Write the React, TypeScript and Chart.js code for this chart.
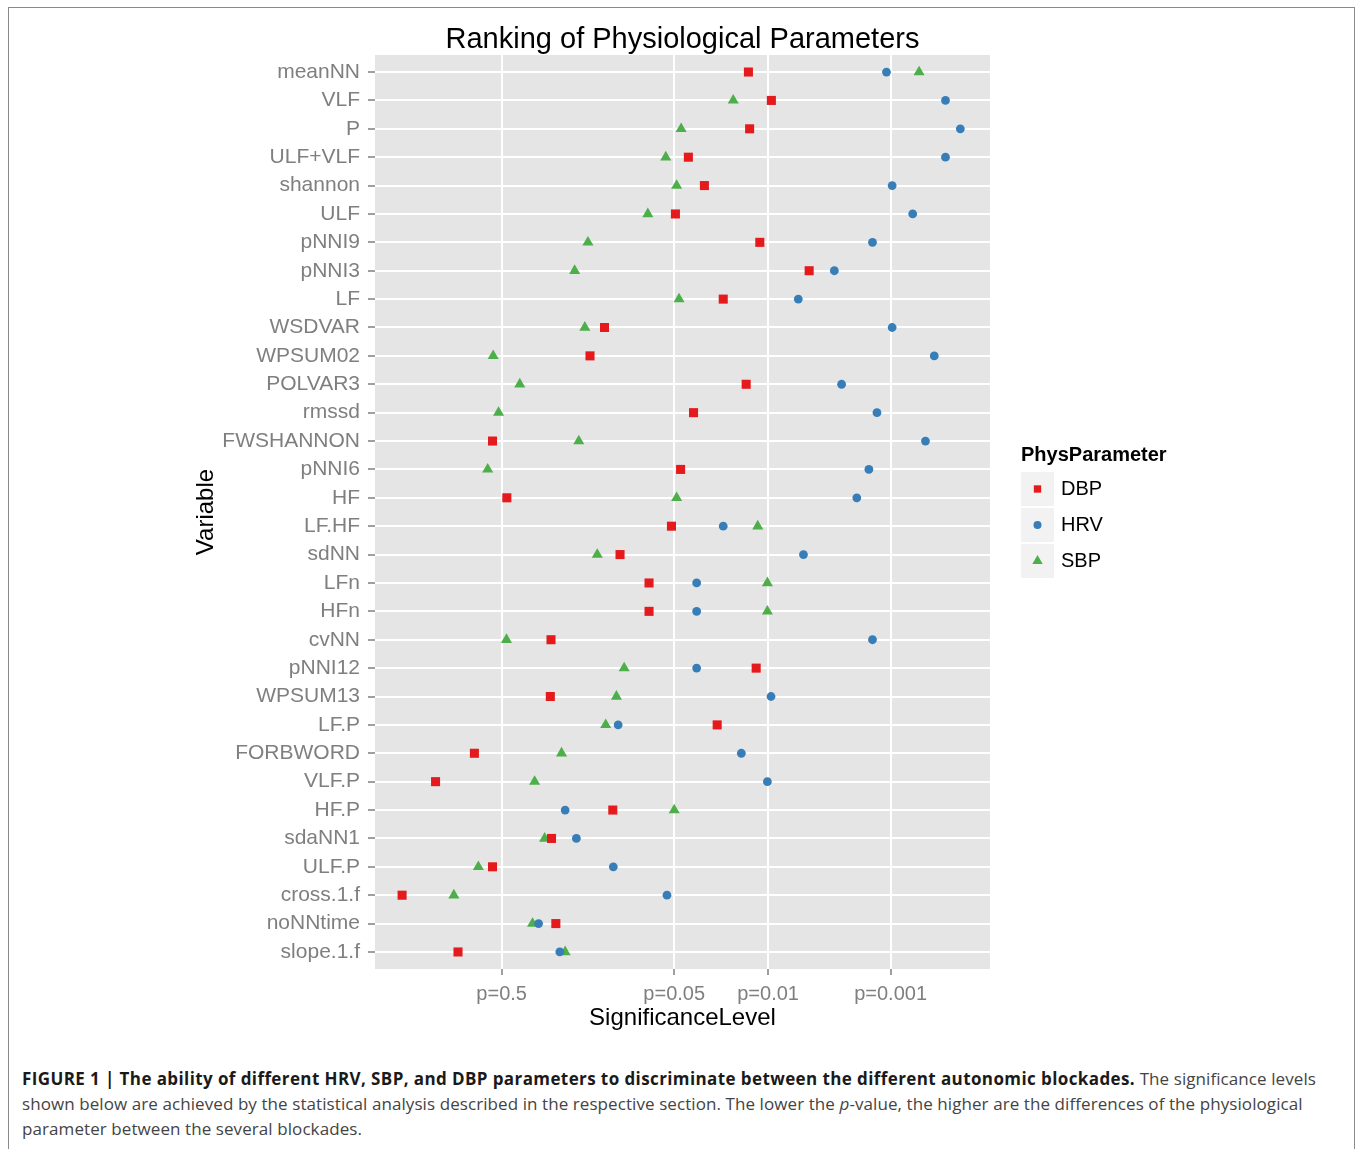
import React, { useEffect, useRef } from "react";
import { Chart, registerables } from "chart.js";

Chart.register(...registerables);

// ---------- data ----------
const categories = [
  "meanNN", "VLF", "P", "ULF+VLF", "shannon", "ULF", "pNNI9", "pNNI3",
  "LF", "WSDVAR", "WPSUM02", "POLVAR3", "rmssd", "FWSHANNON", "pNNI6", "HF",
  "LF.HF", "sdNN", "LFn", "HFn", "cvNN", "pNNI12", "WPSUM13", "LF.P",
  "FORBWORD", "VLF.P", "HF.P", "sdaNN1", "ULF.P", "cross.1.f", "noNNtime", "slope.1.f",
];

// significance scores on the plot's transformed axis (p=0.5 -> 0.30, p=0.05 -> 1.30)
const dbpValues = [
  1.730, 1.863, 1.737, 1.382, 1.475, 1.307, 1.796, 2.082,
  1.584, 0.896, 0.812, 1.717, 1.412, 0.247, 1.337, 0.330,
  1.284, 0.986, 1.154, 1.154, 0.586, 1.775, 0.582, 1.549,
  0.142, -0.083, 0.944, 0.589, 0.247, -0.277, 0.614, 0.047,
];
const hrvValues = [
  2.530, 2.872, 2.958, 2.872, 2.563, 2.682, 2.449, 2.228,
  2.019, 2.563, 2.807, 2.270, 2.475, 2.756, 2.428, 2.358,
  1.584, 2.049, 1.430, 1.430, 2.449, 1.430, 1.861, 0.975,
  1.689, 1.840, 0.668, 0.733, 0.947, 1.258, 0.514, 0.637,
];
const sbpValues = [
  2.719, 1.642, 1.340, 1.251, 1.314, 1.147, 0.800, 0.723,
  1.328, 0.782, 0.251, 0.405, 0.282, 0.747, 0.219, 1.314,
  1.784, 0.854, 1.840, 1.840, 0.328, 1.010, 0.965, 0.903,
  0.647, 0.491, 1.300, 0.549, 0.165, 0.023, 0.479, 0.668,
];

const xTickValues = [0.30, 1.30, 1.844, 2.554];
const xTickLabels = ["p=0.5", "p=0.05", "p=0.01", "p=0.001"];
const xMin = -0.434;
const xMax = 3.13;

const seriesNames = ["DBP", "HRV", "SBP"];
const seriesColors = ["#E41A1C", "#377EB8", "#4DAF4A"];
const seriesShapes = ["rect", "circle", "triangle"];
const seriesRadius = [6.4, 4.4, 6.4];
const seriesValues = [dbpValues, hrvValues, sbpValues];

const titleText = "Ranking of Physiological Parameters";
const xTitle = "SignificanceLevel";
const yTitle = "Variable";
const legendTitle = "PhysParameter";

// ---------- styling ----------
const FONT = '"Liberation Sans", Arial, Helvetica, sans-serif';
const CAPTION_FONT = '"Open Sans", "Liberation Sans", Arial, sans-serif';
const CANVAS_W = 1357;
const CANVAS_H = 1045;
const AXIS_GREY = "#7F7F7F";

function drawShape(ctx: CanvasRenderingContext2D, shape: string, x: number, y: number, r: number) {
  ctx.beginPath();
  if (shape === "rect") {
    const s = Math.SQRT1_2 * r;
    ctx.rect(x - s, y - s, 2 * s, 2 * s);
  } else if (shape === "circle") {
    ctx.arc(x, y, r, 0, Math.PI * 2);
  } else {
    let rad = 0;
    ctx.moveTo(x + Math.sin(rad) * r, y - Math.cos(rad) * r);
    rad += (2 * Math.PI) / 3;
    ctx.lineTo(x + Math.sin(rad) * r, y - Math.cos(rad) * r);
    rad += (2 * Math.PI) / 3;
    ctx.lineTo(x + Math.sin(rad) * r, y - Math.cos(rad) * r);
    ctx.closePath();
  }
  ctx.fill();
}

const decorPlugin = {
  id: "ggDecor",
  beforeDraw(chart: any) {
    const { ctx, chartArea: a } = chart;
    ctx.save();
    ctx.fillStyle = "#E5E5E5";
    ctx.fillRect(a.left, a.top, a.right - a.left, a.bottom - a.top);
    ctx.restore();
  },
  afterDraw(chart: any) {
    const { ctx, chartArea: a } = chart;
    ctx.save();
    // plot title
    ctx.fillStyle = "#000";
    ctx.font = `29px ${FONT}`;
    ctx.textAlign = "center";
    ctx.textBaseline = "alphabetic";
    ctx.fillText(titleText, (a.left + a.right) / 2, 48);

    // legend
    const lx = 1021;
    ctx.textAlign = "left";
    ctx.font = `bold 20px ${FONT}`;
    ctx.fillText(legendTitle, lx, 461);
    ctx.font = `20px ${FONT}`;
    seriesNames.forEach((name, i) => {
      const top = 472 + i * 36;
      ctx.fillStyle = "#F2F2F2";
      ctx.fillRect(lx, top, 33, 34);
      ctx.fillStyle = seriesColors[i];
      const r = seriesShapes[i] === "circle" ? 4 : seriesShapes[i] === "rect" ? 5.2 : 6;
      drawShape(ctx, seriesShapes[i], lx + 16.5, top + 17, r);
      ctx.fillStyle = "#000";
      ctx.textBaseline = "middle";
      ctx.fillText(name, lx + 40, top + 17);
      ctx.textBaseline = "alphabetic";
    });
    ctx.restore();
  },
};

export default function App() {
  const canvasRef = useRef<HTMLCanvasElement>(null);

  useEffect(() => {
    const datasets = seriesNames.map((name, s) => ({
      label: name,
      data: categories.map((_, i) => ({ x: seriesValues[s][i], y: i })),
      pointStyle: seriesShapes[s],
      pointRadius: seriesRadius[s],
      pointHoverRadius: seriesRadius[s],
      backgroundColor: seriesColors[s],
      borderColor: seriesColors[s],
      pointBorderWidth: 0,
      borderWidth: 0,
      showLine: false,
    }));

    const chart = new Chart(canvasRef.current as HTMLCanvasElement, {
      type: "scatter",
      data: { datasets },
      plugins: [decorPlugin],
      options: {
        animation: false,
        responsive: false,
        maintainAspectRatio: false,
        events: [],
        layout: { padding: { left: 0, right: CANVAS_W - 990, top: 55, bottom: 0 } },
        plugins: {
          legend: { display: false },
          title: { display: false },
          tooltip: { enabled: false },
        },
        scales: {
          x: {
            type: "linear",
            position: "bottom",
            min: xMin,
            max: xMax,
            afterBuildTicks: (scale: any) => {
              scale.ticks = xTickValues.map((v) => ({ value: v }));
            },
            afterFit: (scale: any) => {
              scale.height = CANVAS_H - 969;
            },
            ticks: {
              autoSkip: false,
              maxRotation: 0,
              minRotation: 0,
              padding: 7,
              color: AXIS_GREY,
              font: { family: FONT, size: 20 },
              callback: (v: any) => {
                const idx = xTickValues.indexOf(Number(v));
                return idx >= 0 ? xTickLabels[idx] : "";
              },
            },
            grid: {
              color: "#FFFFFF",
              lineWidth: 2,
              tickLength: 6,
              tickColor: AXIS_GREY,
              tickWidth: 1.5,
            },
            border: { display: false },
            title: {
              display: true,
              text: xTitle,
              color: "#000",
              font: { family: FONT, size: 24 },
              padding: { top: 0, bottom: 12 },
            },
          },
          y: {
            type: "linear",
            reverse: true,
            min: -0.6,
            max: categories.length - 1 + 0.6,
            afterBuildTicks: (scale: any) => {
              scale.ticks = categories.map((_, i) => ({ value: i }));
            },
            afterFit: (scale: any) => {
              scale.width = 375;
            },
            ticks: {
              autoSkip: false,
              padding: 8,
              color: AXIS_GREY,
              font: { family: FONT, size: 21 },
              callback: (v: any) => categories[Number(v)] ?? "",
            },
            grid: {
              color: "#FFFFFF",
              lineWidth: 2,
              tickLength: 7,
              tickColor: AXIS_GREY,
              tickWidth: 1.5,
            },
            border: { display: false },
            title: {
              display: true,
              text: yTitle,
              color: "#000",
              font: { family: FONT, size: 24 },
              padding: { top: 192, bottom: 0 },
            },
          },
        },
      } as any,
    } as any);

    return () => chart.destroy();
  }, []);

  return (
    <div style={{ position: "absolute", left: 0, top: 0, width: CANVAS_W, height: 1149, background: "#fff" }}>
      <div
        style={{
          position: "absolute",
          left: 8,
          top: 7,
          width: 1345,
          height: 1160,
          borderLeft: "1px solid #8a8a8a",
          borderTop: "1px solid #8a8a8a",
          borderRight: "1px solid #8a8a8a",
        }}
      />
      <canvas
        ref={canvasRef}
        width={CANVAS_W}
        height={CANVAS_H}
        style={{ position: "absolute", left: 0, top: 0, width: CANVAS_W, height: CANVAS_H }}
      />
      <div
        style={{
          position: "absolute",
          left: 22,
          top: 1066,
          fontFamily: CAPTION_FONT,
          fontSize: 17,
          lineHeight: "25px",
          color: "#444",
          whiteSpace: "nowrap",
          letterSpacing: "0.08px",
        }}
      >
        <b style={{ color: "#1a1a1a", letterSpacing: "0.4px" }}>
          FIGURE 1 | The ability of different HRV, SBP, and DBP parameters to discriminate between the different autonomic blockades.
        </b>{" "}
        The significance levels
        <br />
        shown below are achieved by the statistical analysis described in the respective section. The lower the <i>p</i>-value, the higher are the differences of the physiological
        <br />
        parameter between the several blockades.
      </div>
    </div>
  );
}
